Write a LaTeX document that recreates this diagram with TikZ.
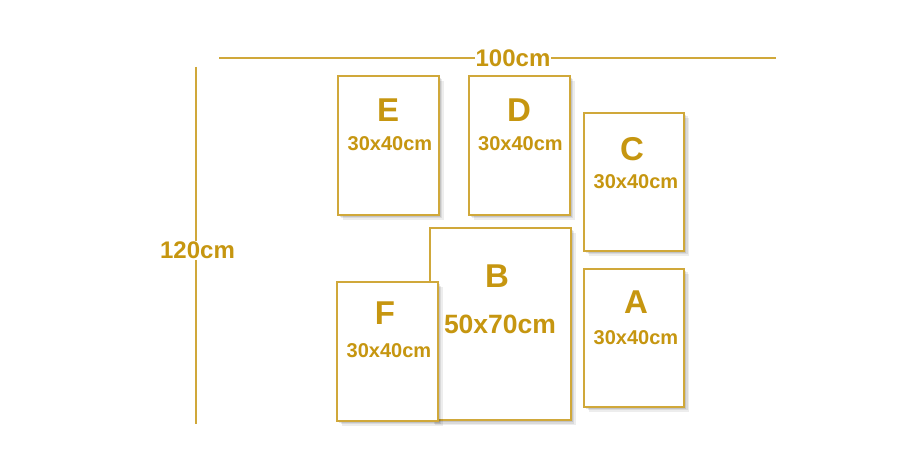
\documentclass[tikz,border=0pt]{standalone}
\usepackage{fontspec}
\setmainfont{Liberation Sans}
\definecolor{goldtxt}{RGB}{198,150,16}
\definecolor{goldline}{RGB}{208,168,58}
\tikzset{
  shlayer/.style={preaction={fill=black, fill opacity=#1}},
  frame/.style={draw=goldline, line width=2pt, fill=white,
    preaction={fill=black, fill opacity=0.07, transform canvas={xshift=5pt,yshift=-5pt}},
    preaction={fill=black, fill opacity=0.08, transform canvas={xshift=3.5pt,yshift=-3.5pt}},
    preaction={fill=black, fill opacity=0.10, transform canvas={xshift=2pt,yshift=-2pt}}},
  letter/.style={text=goldtxt, font=\bfseries\fontsize{33}{33}\selectfont, inner sep=0pt},
  size/.style={text=goldtxt, font=\bfseries\fontsize{20}{20}\selectfont, inner sep=0pt},
  bigsize/.style={text=goldtxt, font=\bfseries\fontsize{26.5}{26.5}\selectfont, inner sep=0pt},
  dim/.style={text=goldtxt, font=\bfseries\fontsize{24}{24}\selectfont, fill=white, inner sep=1pt},
  dimline/.style={draw=goldline, line width=1.8pt}
}
\begin{document}
\begin{tikzpicture}[x=1pt,y=1pt]
\useasboundingbox (0,0) rectangle (920,472);
\fill[white] (0,0) rectangle (920,472);
% dimension lines
\coordinate (hL) at (219,414);
\coordinate (hR) at (776,414);
\coordinate (vT) at (196,405);
\coordinate (vB) at (196,48);
\draw[dimline] (hL) -- (hR);
\draw[dimline] (vT) -- (vB);
\node[dim] (w) at (513,414) {100cm};
\node[dim] (h) at (197.5,221.5) {120cm};
% frames
\path[frame] (337.5,257.5) rectangle (438.5,396);
\path[frame] (468.5,257.5) rectangle (569.5,396);
\path[frame] (584,221.5) rectangle (684,359);
\path[frame] (584,65.5) rectangle (684,203.5);
\path[frame] (430,52) rectangle (570.5,244.5);
\path[frame] (337,51.5) rectangle (437.5,190);
% labels
\node[letter] (Elab) at (388,362) {E};
\node[size] (Esz) at (390,328) {30x40cm};
\node[letter] (Dlab) at (519,362) {D};
\node[size] (Dsz) at (520.5,328) {30x40cm};
\node[letter] (Clab) at (632,323) {C};
\node[size] (Csz) at (636,290) {30x40cm};
\node[letter] (Alab) at (636,170) {A};
\node[size] (Asz) at (636,134) {30x40cm};
\node[letter] (Blab) at (497,196) {B};
\node[bigsize] (Bsz) at (500,148) {50x70cm};
\node[letter] (Flab) at (385,159) {F};
\node[size] (Fsz) at (389,121) {30x40cm};
\end{tikzpicture}
\end{document}
